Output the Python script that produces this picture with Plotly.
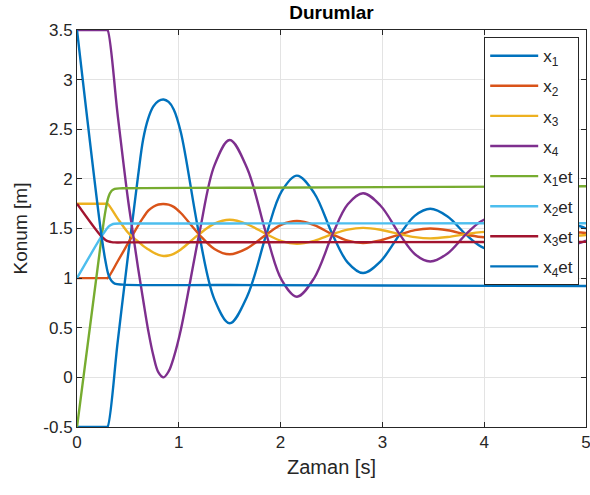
import plotly.graph_objects as go

# time samples for the state trajectories
t_x = [0, 0.29, 0.3, 0.4, 0.5, 0.55, 0.6, 0.65, 0.7, 0.75, 0.8, 0.85, 0.9, 0.95,
       1.02, 1.20, 1.35, 1.50, 1.67, 1.86, 2.01, 2.16, 2.33, 2.51, 2.66,
       2.81, 2.98, 3.17, 3.32, 3.47, 3.64, 3.82, 3.97, 4.12, 4.29, 4.48,
       4.63, 4.78, 4.95, 5.0]

x1 = [-0.5, -0.5, -0.5, 0.36, 1.22, 1.62, 2.03, 2.40, 2.61, 2.73, 2.785, 2.80, 2.775, 2.70,
      2.47, 1.44, 0.786, 0.545, 0.812, 1.44, 1.874, 2.033, 1.857, 1.44, 1.156,
      1.051, 1.167, 1.44, 1.630, 1.699, 1.622, 1.44, 1.317, 1.271, 1.322, 1.44,
      1.524, 1.554, 1.520, 1.500]
x2 = [1.0, 1.0, 1.0, 1.17, 1.35, 1.44, 1.53, 1.61, 1.68, 1.72, 1.742, 1.747, 1.740, 1.718,
      1.656, 1.44, 1.294, 1.240, 1.300, 1.44, 1.539, 1.575, 1.535, 1.44, 1.377,
      1.354, 1.380, 1.44, 1.484, 1.500, 1.482, 1.44, 1.414, 1.403, 1.415, 1.44,
      1.460, 1.467, 1.459, 1.455]
x3 = [1.75, 1.75, 1.75, 1.60, 1.46, 1.41, 1.37, 1.325, 1.29, 1.258, 1.235, 1.223, 1.228, 1.245,
      1.289, 1.443, 1.549, 1.588, 1.545, 1.443, 1.373, 1.347, 1.376, 1.443, 1.489,
      1.506, 1.487, 1.443, 1.413, 1.401, 1.414, 1.443, 1.463, 1.471, 1.462, 1.443,
      1.430, 1.425, 1.430, 1.434]
x4 = [3.5, 3.5, 3.5, 2.64, 1.80, 1.45, 1.10, 0.78, 0.47, 0.22, 0.05, 0.0, 0.06, 0.20,
      0.48, 1.441, 2.136, 2.392, 2.109, 1.441, 0.982, 0.813, 1.001, 1.441, 1.744,
      1.855, 1.732, 1.441, 1.241, 1.168, 1.249, 1.441, 1.573, 1.621, 1.568, 1.441,
      1.354, 1.322, 1.357, 1.379]

# reference (et) trajectories
t_et = [0, 0.24, 0.28, 0.31, 0.34, 0.37, 0.45, 1.5, 3.0, 5.0]
x1et = [-0.5, 1.40, 1.68, 1.82, 1.88, 1.900, 1.905, 1.910, 1.917, 1.925]
x2et = [1.0, 1.42, 1.48, 1.52, 1.54, 1.548, 1.550, 1.551, 1.552, 1.553]
x3et = [1.75, 1.42, 1.385, 1.37, 1.363, 1.360, 1.360, 1.362, 1.363, 1.365]
x4et = [3.5, 1.43, 1.17, 1.03, 0.97, 0.945, 0.935, 0.930, 0.925, 0.920]

names = ["x<sub>1</sub>", "x<sub>2</sub>", "x<sub>3</sub>", "x<sub>4</sub>",
         "x<sub>1</sub>et", "x<sub>2</sub>et", "x<sub>3</sub>et", "x<sub>4</sub>et"]
colors = ["#0072BD", "#D95319", "#EDB120", "#7E2F8E",
          "#77AC30", "#4DBEEE", "#A2142F", "#0072BD"]

y_ticks = [-0.5, 0, 0.5, 1, 1.5, 2, 2.5, 3, 3.5]
y_ticktext = ["-0.5", "0", "0.5", "1", "1.5", "2", "2.5", "3", "3.5"]
x_ticks = [0, 1, 2, 3, 4, 5]

series = [(t_x, x1), (t_x, x2), (t_x, x3), (t_x, x4),
          (t_et, x1et), (t_et, x2et), (t_et, x3et), (t_et, x4et)]

fig = go.Figure()
for i, (tt, yy) in enumerate(series):
    fig.add_trace(go.Scatter(
        x=tt, y=yy, mode="lines", name=names[i], legendgroup=f"g{i}",
        line=dict(color=colors[i], width=2.4, shape="spline", smoothing=1.0),
    ))

axis_col = "#262626"
fig.update_layout(
    width=590, height=495,
    margin=dict(l=77, r=4, t=30, b=68),
    paper_bgcolor="white", plot_bgcolor="white",
    font=dict(family="Liberation Sans, Arial, sans-serif", color=axis_col, size=17),
    title=dict(text="<b>Durumlar</b>", x=0.5618, xanchor="center", y=0.975, yanchor="middle",
               font=dict(size=19, color="black")),
    legend=dict(x=0.80, y=0.982, xanchor="left", yanchor="top",
                bgcolor="white", bordercolor="#262626", borderwidth=1,
                font=dict(size=17, color=axis_col), itemwidth=48,
                tracegroupgap=5),
    showlegend=True,
)
fig.update_xaxes(range=[0, 5], tickvals=x_ticks, showgrid=True, gridcolor="#e3e3e3",
                 ticks="inside", ticklen=5, tickcolor=axis_col, showline=True,
                 linecolor=axis_col, linewidth=1, mirror="ticks", zeroline=False,
                 ticklabeloverflow="allow", automargin=False,
                 tickfont=dict(size=17, color=axis_col),
                 title=dict(text="Zaman [s]", font=dict(size=20, color=axis_col), standoff=8))
fig.update_yaxes(range=[-0.5, 3.5], tickvals=y_ticks, ticktext=y_ticktext, showgrid=True,
                 gridcolor="#e3e3e3", ticks="inside", ticklen=5, tickcolor=axis_col,
                 showline=True, linecolor=axis_col, linewidth=1, mirror="ticks",
                 zeroline=False, automargin=False, tickfont=dict(size=17, color=axis_col),
                 title=dict(text="Konum [m]", font=dict(size=19, color=axis_col), standoff=10))

fig.write_html("out.html")
